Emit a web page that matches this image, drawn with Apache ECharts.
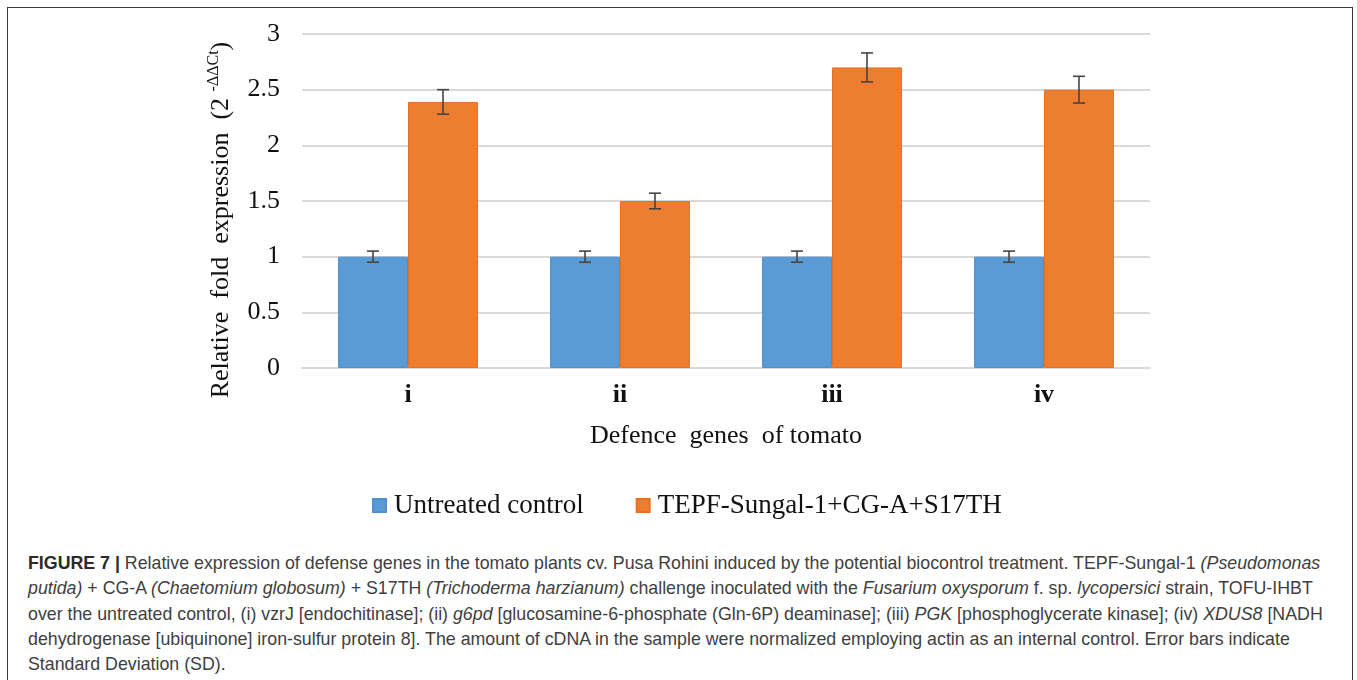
<!DOCTYPE html>
<html>
<head>
<meta charset="utf-8">
<script src="https://cdn.jsdelivr.net/npm/echarts@6/dist/echarts.min.js"></script>
<style>
  html, body { margin: 0; padding: 0; background: #fff; width: 1357px; height: 680px; overflow: hidden; }
  #frame { position: absolute; left: 7px; top: 7px; width: 1346px; height: 700px; border: 1px solid #3a3a3a; border-bottom: none; box-sizing: border-box; }
  #chart { position: absolute; left: 0; top: 0; width: 1357px; height: 540px; }
  #caption { position: absolute; left: 28px; top: 551px; font-family: "Liberation Sans", Arial, sans-serif; font-size: 17.8px; line-height: 25.3px; color: #404040; }
  #caption div { white-space: nowrap; }
  #caption b { color: #2a2a2a; }
</style>
</head>
<body>
<div id="frame"></div>
<div id="chart"></div>
<div id="caption">
  <div><b>FIGURE 7 |</b> Relative expression of defense genes in the tomato plants cv. Pusa Rohini induced by the potential biocontrol treatment. TEPF-Sungal-1 <i>(Pseudomonas</i></div>
  <div><i>putida)</i> + CG-A <i>(Chaetomium globosum)</i> + S17TH <i>(Trichoderma harzianum)</i> challenge inoculated with the <i>Fusarium oxysporum</i> f. sp. <i>lycopersici</i> strain, TOFU-IHBT</div>
  <div>over the untreated control, (i) vzrJ [endochitinase]; (ii) <i>g6pd</i> [glucosamine-6-phosphate (Gln-6P) deaminase]; (iii) <i>PGK</i> [phosphoglycerate kinase]; (iv) <i>XDUS8</i> [NADH</div>
  <div>dehydrogenase [ubiquinone] iron-sulfur protein 8]. The amount of cDNA in the sample were normalized employing actin as an internal control. Error bars indicate</div>
  <div>Standard Deviation (SD).</div>
</div>
<script>
const categories = ['i', 'ii', 'iii', 'iv'];
const seriesNames = ['Untreated control', 'TEPF-Sungal-1+CG-A+S17TH'];
const untreated = [1, 1, 1, 1];
const treated = [2.39, 1.5, 2.7, 2.5];
const untreatedSD = [0.05, 0.05, 0.05, 0.05];
const treatedSD = [0.11, 0.07, 0.13, 0.12];

const BAR_W = 70;
const SERIF = '"Liberation Serif", "Times New Roman", serif';

function errorSeries(values, sds, offsetSign) {
  return {
    type: 'custom',
    z: 5,
    silent: true,
    data: values.map((v, i) => [i, v - sds[i], v + sds[i]]),
    renderItem: function (params, api) {
      const lo = api.coord([api.value(0), api.value(1)]);
      const hi = api.coord([api.value(0), api.value(2)]);
      const x = lo[0] + offsetSign * BAR_W / 2;
      const cap = 6;
      const st = { stroke: '#454545', lineWidth: 1.6 };
      return {
        type: 'group',
        children: [
          { type: 'line', shape: { x1: x, y1: lo[1], x2: x, y2: hi[1] }, style: st },
          { type: 'line', shape: { x1: x - cap, y1: hi[1], x2: x + cap, y2: hi[1] }, style: st },
          { type: 'line', shape: { x1: x - cap, y1: lo[1], x2: x + cap, y2: lo[1] }, style: st }
        ]
      };
    }
  };
}

const chart = echarts.init(document.getElementById('chart'), null, { renderer: 'canvas' });
chart.setOption({
  animation: false,
  backgroundColor: 'transparent',
  grid: { left: 302, right: 207, top: 34, bottom: 172 },
  legend: {
    data: seriesNames,
    left: 367,
    top: 487,
    icon: 'rect',
    itemWidth: 13,
    itemHeight: 13,
    itemGap: 52,
    textStyle: { fontFamily: SERIF, fontSize: 27, color: '#111', padding: [0, 0, 0, 3] }
  },
  graphic: [{
    type: 'text',
    x: 221,
    y: 220,
    rotation: Math.PI / 2,
    style: {
      text: 'Relative  fold  expression  (2 {sup|-ΔΔCt})',
      font: '26px ' + SERIF,
      fill: '#111',
      align: 'center',
      verticalAlign: 'middle',
      lineHeight: 30,
      rich: {
        sup: { fontSize: 16, fontFamily: SERIF, fill: '#111', verticalAlign: 'top', lineHeight: 30 }
      }
    }
  }],
  xAxis: {
    type: 'category',
    data: categories,
    axisLine: { show: true, lineStyle: { color: '#d9d9d9', width: 2 } },
    axisTick: { show: false },
    axisLabel: { fontFamily: SERIF, fontSize: 26, fontWeight: 'bold', color: '#111', margin: 14 },
    name: 'Defence  genes  of tomato',
    nameLocation: 'middle',
    nameGap: 55,
    nameTextStyle: { fontFamily: SERIF, fontSize: 26, color: '#111' }
  },
  yAxis: {
    type: 'value',
    min: 0,
    max: 3,
    interval: 0.5,
    axisLine: { show: false },
    axisTick: { show: false },
    axisLabel: { fontFamily: SERIF, fontSize: 26, color: '#111', margin: 22 },
    splitLine: { lineStyle: { color: '#d9d9d9', width: 2 } }
  },
  series: [
    {
      name: seriesNames[0],
      type: 'bar',
      data: untreated,
      barWidth: BAR_W,
      barGap: '0%',
      itemStyle: { color: '#5b9bd5', borderColor: '#4f91cf', borderWidth: 1 }
    },
    {
      name: seriesNames[1],
      type: 'bar',
      data: treated,
      barWidth: BAR_W,
      barGap: '0%',
      itemStyle: { color: '#ed7d31', borderColor: '#e8701f', borderWidth: 1 }
    },
    errorSeries(untreated, untreatedSD, -1),
    errorSeries(treated, treatedSD, 1)
  ]
});
</script>
</body>
</html>
